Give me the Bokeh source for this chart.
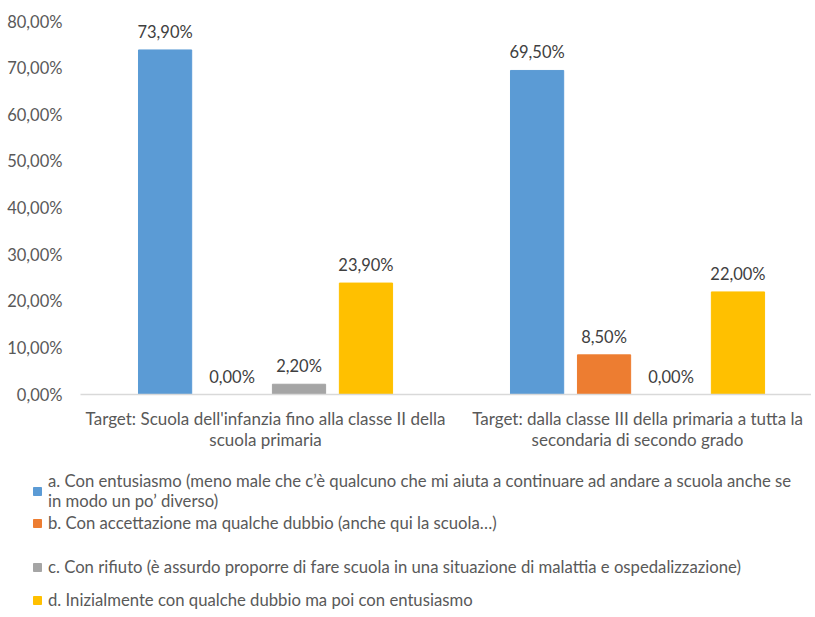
from bokeh.plotting import figure
from bokeh.layouts import column
from bokeh.models import ColumnDataSource, Range1d, FixedTicker, Legend, LegendItem
from bokeh.core.properties import value
from bokeh.embed import file_html
from bokeh.resources import INLINE

# ---- data ----
groups = [
    "Target: Scuola dell'infanzia fino alla classe II della\nscuola primaria",
    "Target: dalla classe III della primaria a tutta la\nsecondaria di secondo grado",
]
series_labels = [
    "a. Con entusiasmo (meno male che c\u2019è qualcuno che mi aiuta a continuare ad andare a scuola anche se\nin modo un po\u2019 diverso)",
    "b. Con accettazione ma qualche dubbio (anche qui la scuola\u2026)",
    "c. Con rifiuto (è assurdo proporre di fare scuola in una situazione di malattia e ospedalizzazione)",
    "d. Inizialmente con qualche dubbio ma poi con entusiasmo",
]
values_a = [73.9, 69.5]
values_b = [0.0, 8.5]
values_c = [2.2, 0.0]
values_d = [23.9, 22.0]
series_values = [values_a, values_b, values_c, values_d]
colors = ["#5B9BD5", "#ED7D31", "#A5A5A5", "#FFC000"]
y_ticks = [0, 10, 20, 30, 40, 50, 60, 70, 80]

FONT = "Lato"
W = 811
H_CHART = 463
H_LEGEND = 613 - H_CHART
LEG_FS = 16.7
LINE_H = LEG_FS * 1.2
FRAME_LEFT = 80
PX_PER_GROUP = 372
X0 = -0.4974
# layout: top edge (px, inside legend area) of each legend entry
entry_tops = [8, 50, 94, 127]


def pct(v):
    return f"{v:.2f}".replace(".", ",") + "%"


p = figure(width=W, height=H_CHART, output_backend="svg", toolbar_location=None,
           x_range=Range1d(X0, X0 + (W - FRAME_LEFT) / PX_PER_GROUP),
           y_range=Range1d(0, 80),
           min_border_left=FRAME_LEFT, min_border_right=0, min_border_top=21,
           min_border_bottom=H_CHART - 21 - 373)
p.frame_align = False
p.outline_line_color = None
p.xgrid.visible = False
p.ygrid.visible = False

# legend area (its glyph renderers lie outside its visible ranges)
pl = figure(width=W, height=H_LEGEND, output_backend="svg", toolbar_location=None,
            x_range=Range1d(100, 101), y_range=Range1d(1000, 1001),
            x_axis_location=None, y_axis_location=None,
            min_border_left=0, min_border_right=0, min_border_top=0,
            min_border_bottom=0)
pl.frame_align = False
pl.outline_line_color = None
pl.xgrid.visible = False
pl.ygrid.visible = False

offsets = [-0.27, -0.09, 0.09, 0.27]
bar_w = 0.143
for i, (vals, col, lab) in enumerate(zip(series_values, colors, series_labels)):
    xs = [g + offsets[i] for g in range(len(groups))]
    src = ColumnDataSource(dict(x=xs, top=vals, lbl=[pct(v) for v in vals]))
    p.vbar(x="x", top="top", width=bar_w, bottom=0, color=col, source=src)
    p.text(x="x", y="top", text="lbl", source=src, text_align="center",
           text_baseline="bottom", y_offset=-8, text_font=value(FONT),
           text_font_size="16.5px", text_color="#404040")
    rl = pl.vbar(x="x", top="top", width=bar_w, bottom=0, color=col, source=src)
    n_lines = lab.count("\n") + 1
    h = n_lines * LINE_H
    leg = Legend(items=[LegendItem(label=lab, renderers=[rl])],
                 location=(32, H_LEGEND - entry_tops[i] - h),
                 padding=0, margin=0, spacing=0,
                 glyph_width=10, glyph_height=10, label_standoff=6,
                 label_height=10,
                 label_text_font=FONT, label_text_font_size=f"{LEG_FS}px",
                 label_text_color="#595959",
                 border_line_color=None, background_fill_alpha=0)
    pl.add_layout(leg, "center")

# axes
p.xaxis.ticker = FixedTicker(ticks=list(range(len(groups))))
p.xaxis.major_label_overrides = {i: g for i, g in enumerate(groups)}
p.xaxis.axis_line_color = "#D9D9D9"
p.xaxis.axis_line_width = 1.5
p.xaxis.major_tick_line_color = None
p.xaxis.minor_tick_line_color = None
p.xaxis.major_tick_out = 0
p.xaxis.major_tick_in = 0
p.xaxis.major_label_text_font = FONT
p.xaxis.major_label_text_font_size = "17px"
p.xaxis.major_label_text_color = "#595959"
p.xaxis.major_label_text_line_height = 1.0
p.xaxis.major_label_standoff = 13

p.yaxis.ticker = FixedTicker(ticks=y_ticks)
p.yaxis.major_label_overrides = {t: pct(t) for t in y_ticks}
p.yaxis.axis_line_color = None
p.yaxis.major_tick_line_color = None
p.yaxis.minor_tick_line_color = None
p.yaxis.major_tick_out = 0
p.yaxis.major_tick_in = 0
p.yaxis.major_label_text_font = FONT
p.yaxis.major_label_text_font_size = "16.5px"
p.yaxis.major_label_text_color = "#595959"
p.yaxis.major_label_standoff = 18

layout = column(p, pl, spacing=0)
open("out.html", "w").write(file_html(layout, INLINE))
